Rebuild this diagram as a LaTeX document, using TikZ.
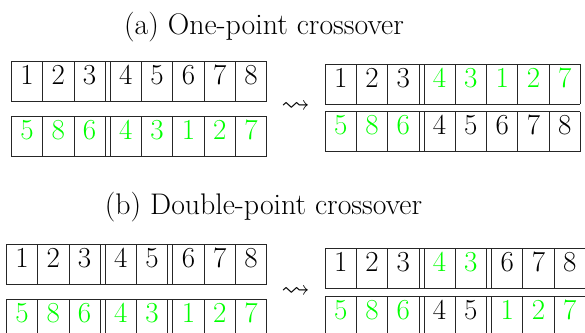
\documentclass[tikz,border=0pt]{standalone}
\usepackage{amssymb}
\usepackage{fontspec}
\usepackage{xcolor}
\definecolor{gr}{rgb}{0,1,0}
\definecolor{bk}{rgb}{0,0,0}
\tikzset{
  cellline/.style={line width=0.8pt, black!85},
  digit/.style={inner sep=0pt, text height=0.644em, text depth=0pt, anchor=center, font=\fontsize{29}{34}\selectfont},
  titlenode/.style={inner sep=0pt, anchor=base, font=\fontsize{29.8}{34}\selectfont},
  arrownode/.style={inner sep=0pt, anchor=center, font=\fontsize{28.5}{34}\selectfont},
}
\def\cw{31.3}
\def\dg{5}
\def\ch{40}
% #1 left x, #2 top y, #3 name, #4 total gaps, #5 list i/g/colour/digit
\newcommand\chromrow[5]{%
  \pgfmathsetmacro\rowend{#1+8*\cw+#4*\dg}
  \draw[cellline] (#1,#2) -- (\rowend,#2);
  \draw[cellline] (#1,#2+\ch) -- (\rowend,#2+\ch);
  \foreach \i/\g/\c/\d in {#5}{
    \pgfmathsetmacro\xl{#1+\i*\cw+\g*\dg}
    \draw[cellline] (\xl,#2) -- ++(0,\ch);
    \draw[cellline] (\xl+\cw,#2) -- ++(0,\ch);
    \node[digit, text=\c] (#3-\i) at (\xl+0.5*\cw,#2+0.5*\ch) {\d};
  }
}
\begin{document}
\begin{tikzpicture}[x=1pt,y=-1pt]
\useasboundingbox (0,0) rectangle (585,332);
\clip (0,0) rectangle (585,332);
% (a)
\node[titlenode] (ta) at (264,34.7) {(a) One-point crossover};
\chromrow{11.3}{61}{a1}{1}{0/0/bk/1,1/0/bk/2,2/0/bk/3,3/1/bk/4,4/1/bk/5,5/1/bk/6,6/1/bk/7,7/1/bk/8}
\chromrow{11.3}{116}{a2}{1}{0/0/gr/5,1/0/gr/8,2/0/gr/6,3/1/gr/4,4/1/gr/3,5/1/gr/1,6/1/gr/2,7/1/gr/7}
\node[arrownode] (aa) at (295.5,107.3) {$\rightsquigarrow$};
\chromrow{325}{64}{a3}{1}{0/0/bk/1,1/0/bk/2,2/0/bk/3,3/1/gr/4,4/1/gr/3,5/1/gr/1,6/1/gr/2,7/1/gr/7}
\chromrow{325}{111.7}{a4}{1}{0/0/gr/5,1/0/gr/8,2/0/gr/6,3/1/bk/4,4/1/bk/5,5/1/bk/6,6/1/bk/7,7/1/bk/8}
% (b)
\node[titlenode] (tb) at (263.5,214.7) {(b) Double-point crossover};
\chromrow{6.3}{244}{b1}{2}{0/0/bk/1,1/0/bk/2,2/0/bk/3,3/1/bk/4,4/1/bk/5,5/2/bk/6,6/2/bk/7,7/2/bk/8}
\chromrow{6.3}{299.3}{b2}{2}{0/0/gr/5,1/0/gr/8,2/0/gr/6,3/1/gr/4,4/1/gr/3,5/2/gr/1,6/2/gr/2,7/2/gr/7}
\node[arrownode] (ba) at (295.5,291.7) {$\rightsquigarrow$};
\chromrow{325}{248.3}{b3}{2}{0/0/bk/1,1/0/bk/2,2/0/bk/3,3/1/gr/4,4/1/gr/3,5/2/bk/6,6/2/bk/7,7/2/bk/8}
\chromrow{325}{296}{b4}{2}{0/0/gr/5,1/0/gr/8,2/0/gr/6,3/1/bk/4,4/1/bk/5,5/2/gr/1,6/2/gr/2,7/2/gr/7}
\end{tikzpicture}
\end{document}
